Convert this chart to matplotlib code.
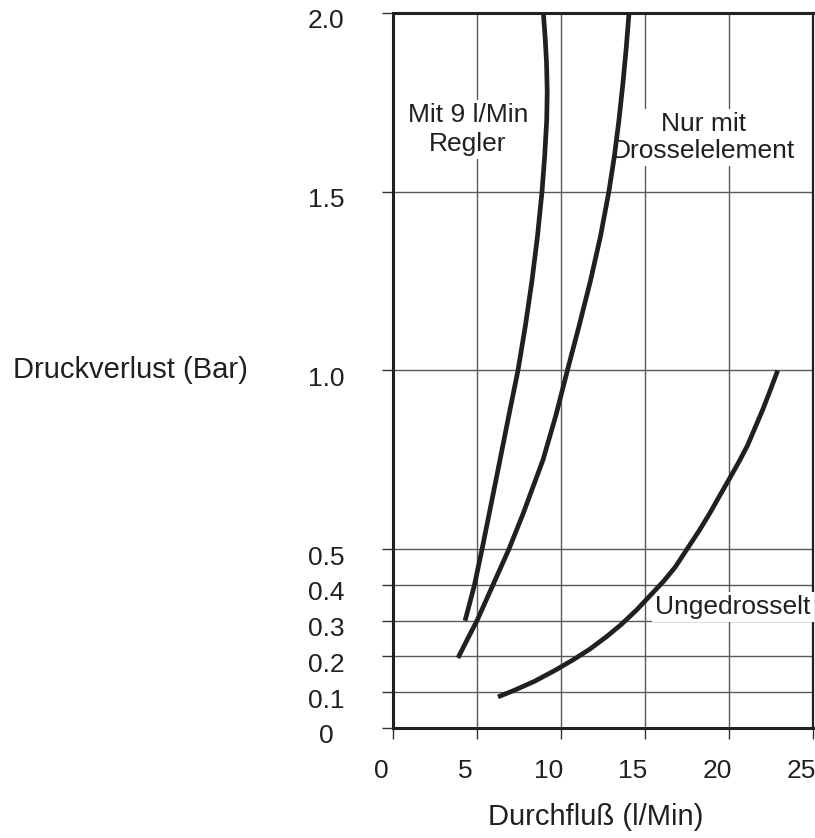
import matplotlib
matplotlib.use("Agg")
import matplotlib.pyplot as plt
from matplotlib import transforms as mtransforms

plt.rcParams['font.family'] = ['Liberation Sans', 'DejaVu Sans']

# curves: flow (l/Min) vs pressure loss (Bar)
regler_flow = [4.29, 4.85, 5.30, 5.73, 6.37, 6.90, 7.44, 7.88, 8.27, 8.60, 8.87,
               9.03, 9.15, 9.18, 9.14, 9.06, 8.95]
regler_bar = [0.30, 0.40, 0.50, 0.60, 0.75, 0.875, 1.00, 1.125, 1.25, 1.375, 1.50,
              1.60, 1.70, 1.78, 1.86, 1.93, 2.00]

drossel_flow = [3.87, 4.45, 5.00, 5.95, 6.90, 7.75, 8.93, 9.70, 10.38, 11.08, 11.75,
                12.35, 12.85, 13.18, 13.45, 13.68, 13.88, 14.05]
drossel_bar = [0.196, 0.25, 0.30, 0.40, 0.50, 0.60, 0.75, 0.875, 1.00, 1.125, 1.25,
               1.375, 1.50, 1.60, 1.70, 1.80, 1.90, 2.00]

unged_flow = [6.25, 7.2, 8.4, 9.6, 10.7, 11.7, 12.7, 13.6, 14.5, 15.3, 16.1, 16.8,
              17.5, 18.2, 18.85, 19.45, 20.0, 20.6, 21.1, 21.6, 22.05, 22.5, 22.9]
unged_bar = [0.087, 0.105, 0.13, 0.16, 0.19, 0.22, 0.255, 0.29, 0.33, 0.37, 0.41, 0.45,
             0.50, 0.55, 0.60, 0.65, 0.695, 0.745, 0.79, 0.845, 0.895, 0.95, 1.00]

x_ticks = [0, 5, 10, 15, 20, 25]
y_ticks = [0, 0.1, 0.2, 0.3, 0.4, 0.5, 1.0, 1.5, 2.0]
y_tick_labels = ['0', '0.1', '0.2', '0.3', '0.4', '0.5', '1.0', '1.5', '2.0']

ink = '#231f20'

fig = plt.figure(figsize=(8.15, 8.38), dpi=100)
ax = fig.add_axes([0.4822, 0.1313, 0.5153, 0.8532])

for fl, br in [(regler_flow, regler_bar), (drossel_flow, drossel_bar), (unged_flow, unged_bar)]:
    ax.plot(fl, br, color=ink, lw=3.4, solid_capstyle='butt', solid_joinstyle='round', zorder=4)

ax.set_xlim(0, 25)
ax.set_ylim(0, 2.0)
ax.set_xticks(x_ticks)
ax.set_yticks(y_ticks)
ax.set_yticklabels(y_tick_labels)

ax.grid(True, color='#5a5a5a', lw=1.0, zorder=0)
ax.set_axisbelow(True)

for s in ax.spines.values():
    s.set_linewidth(2.2)
    s.set_color(ink)
ax.spines['right'].set_linewidth(1.6)

ax.tick_params(axis='both', direction='out', length=8, width=1.0, color='#333333',
               labelsize=19, labelcolor=ink)
ax.tick_params(axis='x', pad=14)
ax.tick_params(axis='y', pad=40)

dx = mtransforms.ScaledTranslation(-0.12, 0, fig.dpi_scale_trans)
for lab in ax.get_xticklabels():
    lab.set_transform(lab.get_transform() + dx)
dy = mtransforms.ScaledTranslation(0, -0.06, fig.dpi_scale_trans)
for lab in ax.get_yticklabels():
    lab.set_ha('center')
    lab.set_transform(lab.get_transform() + dy)

ax.set_xlabel('Durchfluß (l/Min)', fontsize=21, color=ink, va='center')
ax.xaxis.set_label_coords(0.483, -0.124)
ax.set_ylabel('Druckverlust (Bar)', fontsize=21, color=ink, rotation=0, ha='right', va='center')
ax.yaxis.set_label_coords(-0.345, 0.5)

box = dict(boxstyle='square,pad=0.12', fc='white', ec='none')
ax.text(4.46, 1.675, 'Mit 9 l/Min\nRegler', fontsize=19, color=ink, ha='center', va='center',
        linespacing=1.25, bbox=box, zorder=3)
ax.text(18.5, 1.652, 'Nur mit\nDrosselelement', fontsize=19, color=ink, ha='center', va='center',
        linespacing=1.15, bbox=box, zorder=3)
ax.text(15.6, 0.338, 'Ungedrosselt', fontsize=19, color=ink, ha='left', va='center',
        bbox=box, zorder=3)

fig.savefig('out.png', dpi=100)
